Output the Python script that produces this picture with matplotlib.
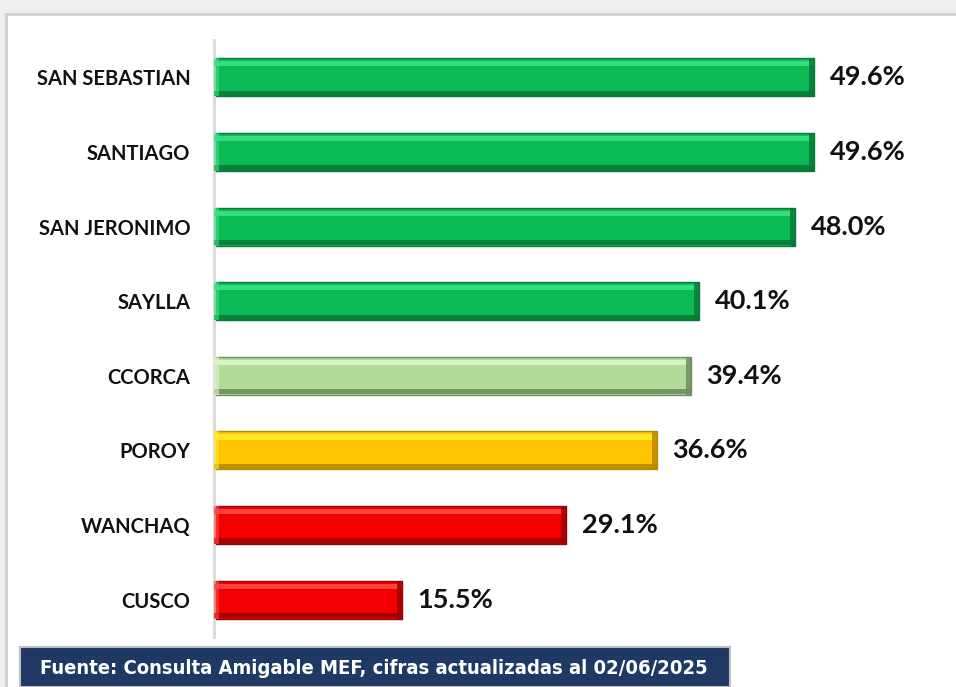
import matplotlib
matplotlib.use("Agg")
import matplotlib.pyplot as plt
from matplotlib.patches import Rectangle
from matplotlib import font_manager

# data
districts = ["SAN SEBASTIAN", "SANTIAGO", "SAN JERONIMO", "SAYLLA",
             "CCORCA", "POROY", "WANCHAQ", "CUSCO"]
avance = [49.6, 49.6, 48.0, 40.1, 39.4, 36.6, 29.1, 15.5]
tramo = ["verde", "verde", "verde", "verde", "verde_claro", "amarillo", "rojo", "rojo"]
fuente = "Fuente: Consulta Amigable MEF, cifras actualizadas al 02/06/2025"

# (main, highlight, shadow)
palette = {
    "verde": ("#0ABB55", "#3EE085", "#077A38"),
    "verde_claro": ("#B2DA98", "#DDF6CC", "#6F8E60"),
    "amarillo": ("#FFC400", "#FFEA2E", "#B88A00"),
    "rojo": ("#F20000", "#FF4A4A", "#9E0000"),
}

W, H = 956, 687
fig = plt.figure(figsize=(W / 100, H / 100), dpi=100)
fig.patch.set_facecolor("white")

# grey surround + panel border
fig.patches.append(Rectangle((0, 1 - 13 / H), 1, 13 / H, transform=fig.transFigure,
                             facecolor="#eeeeee", edgecolor="none", zorder=0))
fig.patches.append(Rectangle((0, 0), 5 / W, 1, transform=fig.transFigure,
                             facecolor="#eeeeee", edgecolor="none", zorder=0))
fig.lines.append(plt.Line2D([6 / W, 1], [1 - 14 / H, 1 - 14 / H], transform=fig.transFigure,
                            color="#cfcfcf", lw=2))
fig.lines.append(plt.Line2D([6 / W, 6 / W], [0, 1 - 14 / H], transform=fig.transFigure,
                            color="#cfcfcf", lw=2))

ax = fig.add_axes([214 / W, 1 - 637 / H, 726 / W, 597 / H])
ax.set_facecolor("none")

ys = list(range(len(districts)))
bh = 0.51
mains = [palette[t][0] for t in tramo]
lights = [palette[t][1] for t in tramo]
darks = [palette[t][2] for t in tramo]

ax.barh(ys, avance, height=bh, color=mains, edgecolor=darks, linewidth=1.0, zorder=2)
# bevel strips
ax.barh([y - bh / 2 + 0.075 for y in ys], avance, height=0.07, color=lights,
        edgecolor="none", alpha=0.9, zorder=3)
ax.barh([y + bh / 2 - 0.04 for y in ys], avance, height=0.07, color=darks,
        edgecolor="none", alpha=0.9, zorder=3)
ax.barh(ys, [0.4] * len(ys), left=[v - 0.4 for v in avance], height=bh,
        color=darks, edgecolor="none", alpha=0.85, zorder=4)
ax.barh(ys, [0.4] * len(ys), left=[0] * len(ys), height=bh,
        color=lights, edgecolor="none", alpha=0.6, zorder=4)

for y, v in zip(ys, avance):
    ax.text(v + 1.3, y, f"{v:.1f}%", va="center", ha="left",
            fontsize=19.5, fontweight="bold", family="Lato", color="#111111")

ax.set_xlim(0, 60)
ax.set_ylim(len(districts) - 0.5, -0.5)
ax.set_yticks(ys)
ax.set_yticklabels(districts, fontsize=14.5, fontweight="bold", family="Lato", color="#111111")
ax.tick_params(axis="y", length=0, pad=17)
ax.set_xticks([])
for s in ["top", "right", "bottom"]:
    ax.spines[s].set_visible(False)
ax.spines["left"].set_color("#d9d9d9")
ax.spines["left"].set_linewidth(2)

# source box
fig.patches.append(Rectangle((20 / W, 0), 710 / W, 40 / H, transform=fig.transFigure,
                             facecolor="#1F3864", edgecolor="#bfbfbf", linewidth=1.5, zorder=5))
narrow = None
for f in font_manager.fontManager.ttflist:
    if f.name in ("Liberation Sans Narrow", "DejaVu Sans") and "ondensed" in str(f.stretch) + f.fname \
            or f.name == "Liberation Sans Narrow":
        if str(f.weight) in ("bold", "700"):
            narrow = f.fname
            break
if narrow:
    fp = font_manager.FontProperties(fname=narrow, size=14.5)
else:
    fp = font_manager.FontProperties(family="Liberation Sans", weight="bold", size=14)
fig.text(40 / W, 1 - 668 / H, fuente, color="white", fontproperties=fp,
         va="center", ha="left", zorder=6)

fig.savefig("out.png", dpi=100, facecolor=fig.get_facecolor())
